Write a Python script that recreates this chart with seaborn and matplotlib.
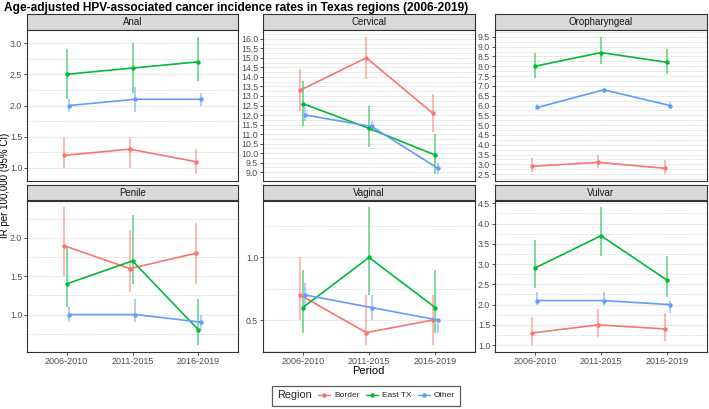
import numpy as np
import pandas as pd
import seaborn as sns
import matplotlib
matplotlib.use("Agg")
import matplotlib.pyplot as plt
from matplotlib.lines import Line2D
from matplotlib.ticker import MultipleLocator

sns.set_theme(style="white")
plt.rcParams['font.family'] = ['Liberation Sans', 'DejaVu Sans']

periods = ["2006-2010", "2011-2015", "2016-2019"]
regions = ["Border", "East TX", "Other"]
cancers = ["Anal", "Cervical", "Oropharyngeal", "Penile", "Vaginal", "Vulvar"]

# rate, lower CI, upper CI per cancer -> region -> periods
anal_rate = {"Border": [1.2, 1.3, 1.1], "East TX": [2.5, 2.6, 2.7], "Other": [2.0, 2.1, 2.1]}
anal_lo = {"Border": [1.0, 1.0, 0.9], "East TX": [2.1, 2.2, 2.4], "Other": [1.9, 1.9, 2.0]}
anal_hi = {"Border": [1.5, 1.5, 1.3], "East TX": [2.9, 3.0, 3.1], "Other": [2.1, 2.3, 2.2]}

cerv_rate = {"Border": [13.3, 15.0, 12.1], "East TX": [12.6, 11.3, 9.9], "Other": [12.0, 11.4, 9.2]}
cerv_lo = {"Border": [12.2, 13.9, 11.1], "East TX": [11.4, 10.3, 8.9], "Other": [11.7, 11.1, 8.9]}
cerv_hi = {"Border": [14.4, 16.1, 13.1], "East TX": [13.8, 12.5, 11.0], "Other": [12.4, 11.7, 9.5]}

oro_rate = {"Border": [2.9, 3.1, 2.8], "East TX": [8.0, 8.7, 8.2], "Other": [5.9, 6.8, 6.0]}
oro_lo = {"Border": [2.6, 2.8, 2.5], "East TX": [7.4, 8.1, 7.6], "Other": [5.8, 6.7, 5.9]}
oro_hi = {"Border": [3.3, 3.5, 3.2], "East TX": [8.7, 9.5, 8.9], "Other": [6.1, 6.9, 6.2]}

pen_rate = {"Border": [1.9, 1.6, 1.8], "East TX": [1.4, 1.7, 0.8], "Other": [1.0, 1.0, 0.9]}
pen_lo = {"Border": [1.5, 1.3, 1.4], "East TX": [1.1, 1.4, 0.6], "Other": [0.9, 0.9, 0.8]}
pen_hi = {"Border": [2.4, 2.1, 2.2], "East TX": [1.9, 2.3, 1.2], "Other": [1.1, 1.2, 1.0]}

vag_rate = {"Border": [0.7, 0.4, 0.5], "East TX": [0.6, 1.0, 0.6], "Other": [0.7, 0.6, 0.5]}
vag_lo = {"Border": [0.5, 0.3, 0.3], "East TX": [0.4, 0.7, 0.4], "Other": [0.6, 0.5, 0.4]}
vag_hi = {"Border": [1.0, 0.7, 0.7], "East TX": [0.9, 1.4, 0.9], "Other": [0.8, 0.7, 0.5]}

vul_rate = {"Border": [1.3, 1.5, 1.4], "East TX": [2.9, 3.7, 2.6], "Other": [2.1, 2.1, 2.0]}
vul_lo = {"Border": [1.0, 1.2, 1.1], "East TX": [2.4, 3.2, 2.2], "Other": [2.0, 2.0, 1.8]}
vul_hi = {"Border": [1.7, 1.9, 1.8], "East TX": [3.6, 4.4, 3.2], "Other": [2.3, 2.3, 2.1]}

tables = {
    "Anal": (anal_rate, anal_lo, anal_hi),
    "Cervical": (cerv_rate, cerv_lo, cerv_hi),
    "Oropharyngeal": (oro_rate, oro_lo, oro_hi),
    "Penile": (pen_rate, pen_lo, pen_hi),
    "Vaginal": (vag_rate, vag_lo, vag_hi),
    "Vulvar": (vul_rate, vul_lo, vul_hi),
}

rows = []
for c in cancers:
    r, lo, hi = tables[c]
    for reg in regions:
        for i, p in enumerate(periods):
            rows.append(dict(cancer=c, region=reg, period=p, pidx=i,
                             rate=r[reg][i], lo=lo[reg][i], hi=hi[reg][i]))
df = pd.DataFrame(rows)

palette = {"Border": "#F8766D", "East TX": "#00BA38", "Other": "#619CFF"}
dodge = {"Border": -0.04, "East TX": 0.0, "Other": 0.04}
df["x"] = df["pidx"] + df["region"].map(dodge)

W, H = 709, 409
fig = plt.figure(figsize=(W / 100, H / 100), dpi=100)

def fr(x0, y0, x1, y1):
    return [x0 / W, 1 - y1 / H, (x1 - x0) / W, (y1 - y0) / H]

col_x = [(27, 238), (263, 475), (495, 707)]
row_y = [(14, 30, 181), (185, 200.5, 352)]

for k, c in enumerate(cancers):
    ri, ci = divmod(k, 3)
    x0, x1 = col_x[ci]
    st, pt, pb = row_y[ri]
    # strip
    sax = fig.add_axes(fr(x0, st, x1, pt))
    sax.set_facecolor("#D9D9D9")
    sax.set_xticks([]); sax.set_yticks([])
    for s in sax.spines.values():
        s.set_color("#333333"); s.set_linewidth(0.8)
    sax.text(0.5, 0.5, c, ha="center", va="center", fontsize=7, color="#1A1A1A",
             transform=sax.transAxes)

    ax = fig.add_axes(fr(x0, pt, x1, pb))
    sub = df[df.cancer == c]
    for reg in regions:
        s = sub[sub.region == reg]
        ax.vlines(s["x"], s["lo"], s["hi"], color=palette[reg], alpha=0.5, lw=1.4, zorder=2)
    sns.lineplot(data=sub, x="x", y="rate", hue="region", palette=palette,
                 hue_order=regions, marker="o", markersize=3.2, markeredgewidth=0,
                 lw=1.2, ax=ax, legend=False, zorder=3)
    ymin, ymax = sub["lo"].min(), sub["hi"].max()
    pad = (ymax - ymin) * 0.05
    ax.set_ylim(ymin - pad, ymax + pad)
    ax.set_xlim(-0.6, 2.6)
    ax.yaxis.set_major_locator(MultipleLocator(0.5))
    ax.yaxis.set_minor_locator(MultipleLocator(0.25))
    ax.grid(which="major", axis="y", color="#EBEBEB", lw=0.8, zorder=0)
    ax.grid(which="minor", axis="y", color="#C8C8C8", lw=0.6, ls=(0, (1, 1.5)), zorder=0)
    ax.set_axisbelow(True)
    ax.yaxis.set_major_formatter(matplotlib.ticker.FormatStrFormatter("%.1f"))
    ax.tick_params(axis="y", which="major", left=True, length=2.5, width=0.6,
                   color="#333333", labelsize=6.3, labelcolor="#4D4D4D", pad=1)
    ax.tick_params(axis="y", which="minor", left=False)
    ax.set_xticks(range(len(periods)))
    if ri == 1:
        ax.set_xticklabels(periods)
        ax.tick_params(axis="x", bottom=True, length=2.5, width=0.6, color="#333333",
                       labelsize=6.5, labelcolor="#4D4D4D", pad=1)
    else:
        ax.set_xticklabels([])
        ax.tick_params(axis="x", bottom=False)
    ax.set_xlabel(""); ax.set_ylabel("")
    for s in ax.spines.values():
        s.set_color("#333333"); s.set_linewidth(0.8)

fig.text(4 / W, 1 - 8 / H, "Age-adjusted HPV-associated cancer incidence rates in Texas regions (2006-2019)",
         fontsize=8.6, fontweight="bold", ha="left", va="center", color="black")
fig.text(5 / W, 1 - 185 / H, "IR per 100,000 (95% CI)", rotation=90, fontsize=7,
         ha="center", va="center", color="black")
fig.text(368 / W, 1 - 371.5 / H, "Period", fontsize=8, ha="center", va="center", color="black")

handles = [Line2D([], [], color=palette[r], marker="o", markersize=2.2, lw=1.0) for r in regions]
leg = fig.legend(handles, regions, loc="center", bbox_to_anchor=(366 / W, 1 - 395.5 / H),
                 ncol=3, title="Region", fontsize=6, title_fontsize=7.8,
                 frameon=True, fancybox=False, edgecolor="#333333", handlelength=1.4,
                 columnspacing=0.8, handletextpad=0.5, borderpad=0.6)
leg.get_frame().set_linewidth(0.9)
vp = leg.get_children()[0]
title_box = vp.get_children()[0]
hbox = vp.get_children()[1]
vp._children = [hbox]
hbox._children.insert(0, title_box)
hbox.align = "center"

fig.savefig("out.png", dpi=100)
